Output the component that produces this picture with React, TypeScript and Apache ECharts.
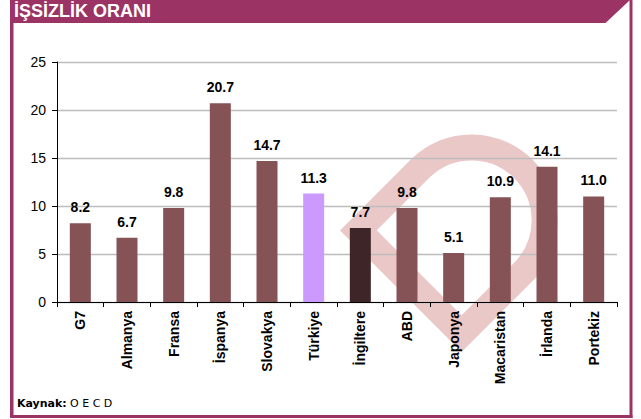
import React, { useEffect, useRef } from "react";
import * as echarts from "echarts";

const titleText = "İŞSİZLİK ORANI";
const sourceLabel = "Kaynak:";
const sourceValue = "O E C D";
const categories = [
  "G7",
  "Almanya",
  "Fransa",
  "İspanya",
  "Slovakya",
  "Türkiye",
  "İngiltere",
  "ABD",
  "Japonya",
  "Macaristan",
  "İrlanda",
  "Portekiz",
];
const values = [8.2, 6.7, 9.8, 20.7, 14.7, 11.3, 7.7, 9.8, 5.1, 10.9, 14.1, 11.0];
const yMin = 0;
const yMax = 25;
const yInterval = 5;

const BAR = "#855356";
const HIGHLIGHT: Record<string, string> = {
  "Türkiye": "#cc99ff",
  "İngiltere": "#3e2628",
};
const PLUM = "#9b3465";
const FONT = "Liberation Sans";

const WATERMARK_D =
  "M 358.4 230.4 L 421.4 167.4 A 73 73 0 0 1 524.6 270.6 L 461.6 333.6 Z";

let registered = false;
function ensureShape() {
  if (registered) return;
  echarts.graphic.registerShape(
    "wmark",
    (echarts.graphic as any).extendPath(WATERMARK_D, {})
  );
  registered = true;
}

export default function App() {
  const ref = useRef<HTMLDivElement>(null);
  useEffect(() => {
    if (!ref.current) return;
    ensureShape();
    const chart = echarts.init(ref.current, null, { renderer: "svg" });
    chart.setOption({
      animation: false,
      backgroundColor: "#ffffff",
      textStyle: { fontFamily: FONT },
      grid: { left: 57, right: 24, top: 62, bottom: 117, containLabel: false },
      xAxis: {
        type: "category",
        data: categories,
        axisLine: { lineStyle: { color: "#000", width: 1 } },
        axisTick: { show: true, length: 5, interval: 0, lineStyle: { color: "#000" } },
        axisLabel: {
          rotate: 90,
          interval: 0,
          margin: 9,
          fontFamily: FONT,
          fontWeight: "bold",
          fontSize: 14,
          color: "#000",
        },
      },
      yAxis: {
        type: "value",
        min: yMin,
        max: yMax,
        interval: yInterval,
        axisLine: { show: true, lineStyle: { color: "#000", width: 1 } },
        axisTick: { show: true, length: 5, lineStyle: { color: "#000" } },
        axisLabel: { margin: 11, fontFamily: FONT, fontSize: 14, color: "#000" },
        splitLine: { show: true, lineStyle: { color: "#bdbdbd", width: 1.4 } },
      },
      series: [
        {
          type: "bar",
          barWidth: 21,
          data: values.map((v, i) => ({
            value: v,
            itemStyle: { color: HIGHLIGHT[categories[i]] || BAR },
          })),
          label: {
            show: true,
            position: "top",
            distance: 9,
            fontFamily: FONT,
            fontWeight: "bold",
            fontSize: 14,
            color: "#000",
            formatter: (p: any) => Number(p.value).toFixed(1),
          },
        },
      ],
      graphic: [
        {
          type: "wmark",
          z: -1,
          x: 0,
          y: 0,
          silent: true,
          style: {
            fill: "none",
            stroke: "#ebc8c8",
            lineWidth: 26,
            lineJoin: "miter",
          },
        },
        {
          type: "polygon",
          z: 10,
          shape: {
            points: [
              [10, 0],
              [630, 0],
              [605.5, 23],
              [10, 23],
            ],
          },
          style: { fill: PLUM },
        },
        { type: "rect", z: 10, shape: { x: 10, y: 0, width: 3.5, height: 418 }, style: { fill: PLUM } },
        { type: "rect", z: 10, shape: { x: 629.5, y: 0, width: 3, height: 418 }, style: { fill: PLUM } },
        { type: "rect", z: 10, shape: { x: 10, y: 415, width: 622.5, height: 3 }, style: { fill: PLUM } },
        {
          type: "text",
          z: 11,
          x: 14,
          y: 10.5,
          style: {
            text: titleText,
            fill: "#ffffff",
            fontFamily: FONT,
            fontWeight: "bold",
            fontSize: 18,
            verticalAlign: "middle",
            align: "left",
          },
        },
        {
          type: "text",
          z: 11,
          x: 17,
          y: 403,
          style: {
            text: "{b|" + sourceLabel + "} {n|" + sourceValue + "}",
            verticalAlign: "middle",
            align: "left",
            rich: {
              b: { fontFamily: "DejaVu Sans", fontWeight: "bold", fontSize: 11, fill: "#000" },
              n: { fontFamily: "DejaVu Sans", fontSize: 11, fill: "#000" },
            },
          },
        },
      ],
    });
    return () => chart.dispose();
  }, []);
  return (
    <div
      ref={ref}
      style={{ position: "absolute", left: 0, top: 0, width: 641, height: 419 }}
    />
  );
}
